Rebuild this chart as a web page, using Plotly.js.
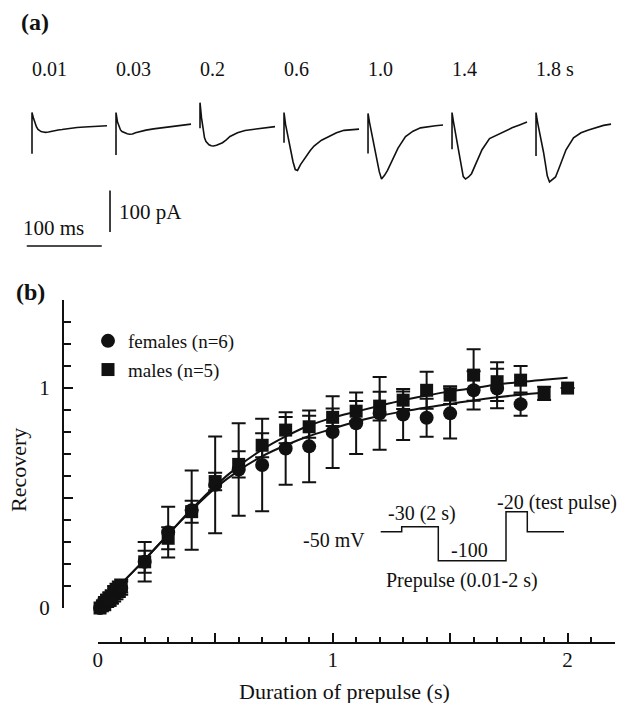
<!DOCTYPE html>
<html><head><meta charset="utf-8">
<script src="https://cdn.plot.ly/plotly-3.0.1.min.js"></script>
<style>html,body{margin:0;padding:0;background:#fff}#chart{width:624px;height:703px}</style>
</head><body><div id="chart"></div>
<script>
// ---------- Panel (a): current traces after each prepulse ----------
const prepulseLabels = ['0.01', '0.03', '0.2', '0.6', '1.0', '1.4', '1.8 s'];
// sample times within each 100 ms sweep (ms); the two t=0 samples are the capacitive transient
const traceTime = [0, 0, 2, 4, 6, 8, 10, 12, 15, 18, 22, 26, 30, 35, 40, 50, 60, 70, 80, 90, 100];
// currents (pA)
const cur001 = [-82, 18, 4, -10, -17, -23, -26, -28, -29, -30, -29, -27, -26, -24, -23, -20, -18, -17, -16, -15, -14];
const cur003 = [-85, 18, -5, -16, -24, -28, -30, -32, -33.5, -34.5, -34, -31, -29, -27, -24.5, -21.5, -19.5, -17.5, -15, -12.5, -10];
const cur02  = [-20, 42, 5, -25, -43, -52, -57, -60, -62.5, -63, -61, -58, -55, -48, -40, -31, -25.5, -23, -21, -19, -16];
const cur06  = [-55, 18, -10, -30, -48, -68, -85, -101, -120, -122, -108, -97, -87, -74, -63, -49, -40, -31, -25, -23, -22];
const cur10  = [-81, 16, -6, -25, -44, -62, -82, -100, -125, -143, -134, -122, -106, -86, -68, -40, -27, -19, -16, -14, -12];
const cur14  = [-71, 18, -5, -25, -45, -62, -85, -108, -137, -143, -138, -130, -113, -94, -72, -45, -36, -28, -19, -12, -5];
const cur18  = [-87, 18, -5, -22, -40, -58, -78, -100, -135, -150, -145, -138, -120, -95, -72, -43, -31, -24, -18, -13, -10];
const scaleBarMs = 100;   // horizontal scale bar length (ms)
const scaleBarPA = 100;   // vertical scale bar length (pA)

// ---------- Panel (b): recovery vs prepulse duration ----------
const durF = [0.01,0.02,0.03,0.04,0.05,0.06,0.07,0.08,0.09,0.1,0.2,0.3,0.4,0.5,0.6,0.7,0.8,0.9,1.0,1.1,1.2,1.3,1.4,1.5,1.6,1.7,1.8];
const recF = [0.0,0.01,0.02,0.03,0.04,0.05,0.06,0.07,0.08,0.09,0.21,0.345,0.445,0.56,0.63,0.65,0.725,0.735,0.80,0.84,0.885,0.88,0.865,0.885,0.99,0.998,0.927];
const errF = [0.03,0.03,0.03,0.03,0.03,0.03,0.03,0.03,0.03,0.03,0.09,0.115,0.18,0.22,0.21,0.21,0.165,0.163,0.163,0.14,0.165,0.116,0.086,0.114,0.087,0.09,0.053];
const durM = [0.01,0.02,0.03,0.04,0.05,0.06,0.07,0.08,0.09,0.1,0.2,0.3,0.4,0.5,0.6,0.7,0.8,0.9,1.0,1.1,1.2,1.3,1.4,1.5,1.6,1.7,1.8,1.9,2.0];
const recM = [0.0,0.01,0.015,0.03,0.04,0.05,0.07,0.08,0.09,0.1,0.21,0.317,0.438,0.575,0.653,0.74,0.809,0.824,0.867,0.895,0.918,0.945,0.99,0.968,1.059,1.029,1.036,0.976,1.0];
const errM = [0.03,0.03,0.03,0.03,0.03,0.03,0.03,0.03,0.03,0.03,0.05,0.05,0.05,0.04,0.06,0.055,0.06,0.05,0.04,0.046,0.065,0.04,0.084,0.04,0.117,0.088,0.064,0.03,0];
const fitDur = [0,0.05,0.1,0.2,0.3,0.4,0.5,0.6,0.7,0.8,0.9,1.0,1.1,1.2,1.3,1.4,1.5,1.6,1.7,1.8,1.9,2.0];
const fitF = [0,0.055,0.11,0.22,0.335,0.445,0.545,0.625,0.69,0.74,0.782,0.815,0.848,0.873,0.894,0.912,0.928,0.944,0.958,0.97,0.98,null];
const fitM = [0,0.055,0.11,0.22,0.335,0.45,0.555,0.645,0.72,0.78,0.83,0.865,0.893,0.92,0.945,0.966,0.985,1.0,1.016,1.028,1.038,1.047];
const xTickVals = [0, 0.5, 1, 1.5, 2];
const xTickText = ['0', '', '1', '', '2'];
const yTickVals = [0, 0.5, 1];
const yTickText = ['0', '', '1'];

// ---------- Voltage protocol inset (schematic) ----------
const protoTime  = [0, 21, 21, 57.6, 57.6, 125.3, 125.3, 146.6, 146.6, 183.3];
const protoLevel = [0, 0, 1, 1, -5.8, -5.8, 4, 4, 0, 0];

// ---------- figure geometry ----------
const W = 624, H = 703;
const px = v => v / W, py = v => 1 - v / H;
const INK = '#111';
const FONT = 'Liberation Serif, Times New Roman, serif';
const sweepGap = 112; // ms between sweep starts on the panel (a) time axis

const traces = [];
const sweeps = [cur001, cur003, cur02, cur06, cur10, cur14, cur18];
sweeps.forEach((c, k) => {
  traces.push({
    x: traceTime.map(t => t + k * sweepGap), y: c,
    xaxis: 'x2', yaxis: 'y2', mode: 'lines', showlegend: false, hoverinfo: 'skip',
    line: {color: INK, width: 1.6}
  });
});
// scale bars
const hbT0 = -7, hbI = -305, vbT = 104, vbI0 = -171;
traces.push({
  x: [hbT0, hbT0 + scaleBarMs, null, vbT, vbT],
  y: [hbI, hbI, null, vbI0, vbI0 - scaleBarPA],
  xaxis: 'x2', yaxis: 'y2', mode: 'lines', showlegend: false, hoverinfo: 'skip',
  line: {color: INK, width: 1.6}
});

// panel b
traces.push({
  x: durF, y: recF, name: 'females (n=6)', legendgroup: 'f', mode: 'markers', cliponaxis: false,
  marker: {symbol: 'circle', size: 14, color: INK},
  error_y: {type: 'data', array: errF, visible: true, color: INK, thickness: 2, width: 7}
});
traces.push({
  x: durM, y: recM, name: 'males (n=5)', legendgroup: 'm', mode: 'markers', cliponaxis: false,
  marker: {symbol: 'square', size: 13, color: INK},
  error_y: {type: 'data', array: errM, visible: true, color: INK, thickness: 2, width: 7}
});
traces.push({x: fitDur, y: fitF, mode: 'lines', showlegend: false, hoverinfo: 'skip',
  line: {color: INK, width: 2, shape: 'spline'}, connectgaps: false});
traces.push({x: fitDur, y: fitM, mode: 'lines', showlegend: false, hoverinfo: 'skip',
  line: {color: INK, width: 2, shape: 'spline'}});

// protocol
traces.push({x: protoTime, y: protoLevel, xaxis: 'x3', yaxis: 'y3', mode: 'lines',
  showlegend: false, hoverinfo: 'skip', line: {color: INK, width: 1.5}});

const ann = (text, x, y, size, opts) => Object.assign({
  text, x: px(x), y: py(y), xref: 'paper', yref: 'paper', showarrow: false,
  xanchor: 'center', yanchor: 'middle', font: {family: FONT, size: size, color: INK}
}, opts || {});

const annotations = [
  ann('<b>(a)</b>', 35, 22, 24),
  ann('<b>(b)</b>', 30, 292, 24),
  ann('100 ms', 53, 228, 21),
  ann('100 pA', 117, 212, 21, {xanchor: 'left'}),
  ann('-50 mV', 334, 540, 20),
  ann('-30 (2 s)', 422, 513, 20),
  ann('-100', 469, 550, 20),
  ann('-20 (test pulse)', 557, 502, 20),
  ann('Prepulse (0.01-2 s)', 462, 580, 20),
  ann('Duration of prepulse (s)', 344, 691, 22),
  ann('Recovery', 18, 470, 22, {textangle: -90})
];
prepulseLabels.forEach((lab, k) => {
  annotations.push({
    text: lab, x: k * sweepGap, y: py(69), xref: 'x2', yref: 'paper', showarrow: false,
    xanchor: 'left', yanchor: 'middle', xshift: -2, font: {family: FONT, size: 20, color: INK}
  });
});

const axBase = {
  showline: true, linecolor: INK, linewidth: 2, ticks: 'inside', tickcolor: INK, tickwidth: 2,
  showgrid: false, zeroline: false, tickmode: 'array',
  tickfont: {family: FONT, size: 21, color: INK}
};

const layout = {
  width: W, height: H, margin: {l: 0, r: 0, t: 0, b: 0},
  paper_bgcolor: '#fff', plot_bgcolor: 'rgba(0,0,0,0)',
  font: {family: FONT, color: INK},
  showlegend: true,
  legend: {x: px(88), y: py(322), xanchor: 'left', yanchor: 'top', bgcolor: 'rgba(0,0,0,0)',
    font: {family: FONT, size: 19, color: INK}, tracegroupgap: 1, traceorder: 'grouped'},
  xaxis: Object.assign({}, axBase, {
    domain: [px(97.7), px(614.7)], range: [0, 2.2005], anchor: 'free', position: 1 - 643 / H,
    tickvals: xTickVals, ticktext: xTickText, ticklen: 9, ticklabelstandoff: -2,
    minor: {tickmode: 'linear', tick0: 0, dtick: 0.1, ticks: 'inside', ticklen: 5, tickwidth: 2, tickcolor: INK, showgrid: false}
  }),
  yaxis: Object.assign({}, axBase, {
    domain: [1 - 608 / H, 1 - 300 / H], range: [0, 1.4005], anchor: 'free', position: px(63),
    tickvals: yTickVals, ticktext: yTickText, ticklen: 9, ticklabelstandoff: 8,
    minor: {tickmode: 'linear', tick0: 0, dtick: 0.1, ticks: 'inside', ticklen: 7, tickwidth: 2, tickcolor: INK, showgrid: false}
  }),
  xaxis2: {domain: [0, 1], range: [-42.67, 789.3], visible: false, anchor: 'y2', fixedrange: true},
  yaxis2: {domain: [1 - 260 / H, 1], range: [-339, 290.6], visible: false, anchor: 'x2', fixedrange: true},
  xaxis3: {domain: [px(377.7), px(566.7)], range: [-3, 186], visible: false, anchor: 'y3', fixedrange: true},
  yaxis3: {domain: [1 - 563.2 / H, 1 - 509.2 / H], range: [-6.3, 4.5], visible: false, anchor: 'x3', fixedrange: true},
  annotations: annotations
};

Plotly.newPlot('chart', traces, layout, {displayModeBar: false, staticPlot: true});
</script>
</body></html>
